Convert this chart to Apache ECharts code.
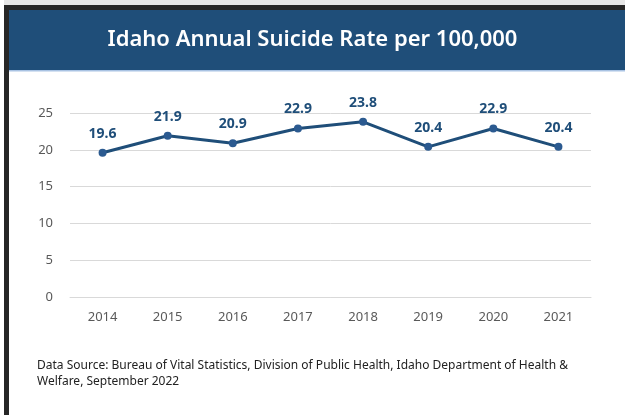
<!DOCTYPE html>
<html>
<head>
<meta charset="utf-8">
<title>Idaho Annual Suicide Rate per 100,000</title>
<script src="https://cdn.jsdelivr.net/npm/echarts@6/dist/echarts.min.js"></script>
<style>
  html, body { margin: 0; padding: 0; background: #ffffff; }
  #chart { width: 625px; height: 415px; }
</style>
</head>
<body>
<div id="chart"></div>
<script>
// Annual suicide rate per 100,000 residents, Idaho
const years = ['2014', '2015', '2016', '2017', '2018', '2019', '2020', '2021'];
const rates = [19.6, 21.9, 20.9, 22.9, 23.8, 20.4, 22.9, 20.4];
const yTicks = { min: 0, max: 25, interval: 5 };

const titleText = 'Idaho Annual Suicide Rate per 100,000';
const sourceLines = [
  'Data Source: Bureau of Vital Statistics, Division of Public Health, Idaho Department of Health &',
  'Welfare, September 2022'
];

const navy = '#1f4e79';
const font = '"Noto Sans", "Open Sans", sans-serif';

const chart = echarts.init(document.getElementById('chart'), null, { renderer: 'canvas' });

chart.setOption({
  backgroundColor: '#ffffff',
  animation: false,
  title: {
    text: titleText,
    left: 'center',
    top: 24,
    textStyle: { color: '#ffffff', fontSize: 22, fontWeight: 600, fontFamily: font }
  },
  graphic: [
    // frame: thin strip along the top and dark edges
    { type: 'rect', z: -10, shape: { x: 4, y: 0, width: 621, height: 5 }, style: { fill: '#e6e6e6' } },
    { type: 'rect', z: -9, shape: { x: 4, y: 5, width: 621, height: 5 }, style: { fill: '#262626' } },
    { type: 'rect', z: -9, shape: { x: 4, y: 5, width: 5, height: 410 }, style: { fill: '#262626' } },
    // header band
    { type: 'rect', z: -8, shape: { x: 9, y: 10, width: 616, height: 60 }, style: { fill: navy } },
    { type: 'rect', z: -8, shape: { x: 9, y: 70, width: 616, height: 1.5 }, style: { fill: '#a9c3e3' } },
    // source note
    {
      type: 'text',
      left: 37,
      top: 358,
      style: {
        text: sourceLines.join('\n'),
        fill: '#222222',
        font: '12px ' + font,
        lineHeight: 16
      }
    }
  ],
  grid: { left: 70, right: 34, top: 113, bottom: 118 },
  xAxis: {
    type: 'category',
    data: years,
    boundaryGap: true,
    axisLine: { show: true, lineStyle: { color: '#d9d9d9', width: 1 } },
    axisTick: { show: false },
    axisLabel: { color: '#595959', fontSize: 13, fontFamily: font, margin: 14 }
  },
  yAxis: {
    type: 'value',
    min: yTicks.min,
    max: yTicks.max,
    interval: yTicks.interval,
    axisLine: { show: false },
    axisTick: { show: false },
    splitLine: { lineStyle: { color: '#d9d9d9', width: 1 } },
    axisLabel: { color: '#595959', fontSize: 13, fontFamily: font, margin: 17 }
  },
  series: [{
    type: 'line',
    data: rates,
    symbol: 'circle',
    symbolSize: 8,
    lineStyle: { color: navy, width: 3 },
    itemStyle: { color: '#2b5a90' },
    label: {
      show: true,
      position: 'top',
      distance: 8,
      color: navy,
      fontSize: 14,
      fontWeight: 'bold',
      fontFamily: font,
      formatter: p => p.value.toFixed(1)
    }
  }]
});
</script>
</body>
</html>
